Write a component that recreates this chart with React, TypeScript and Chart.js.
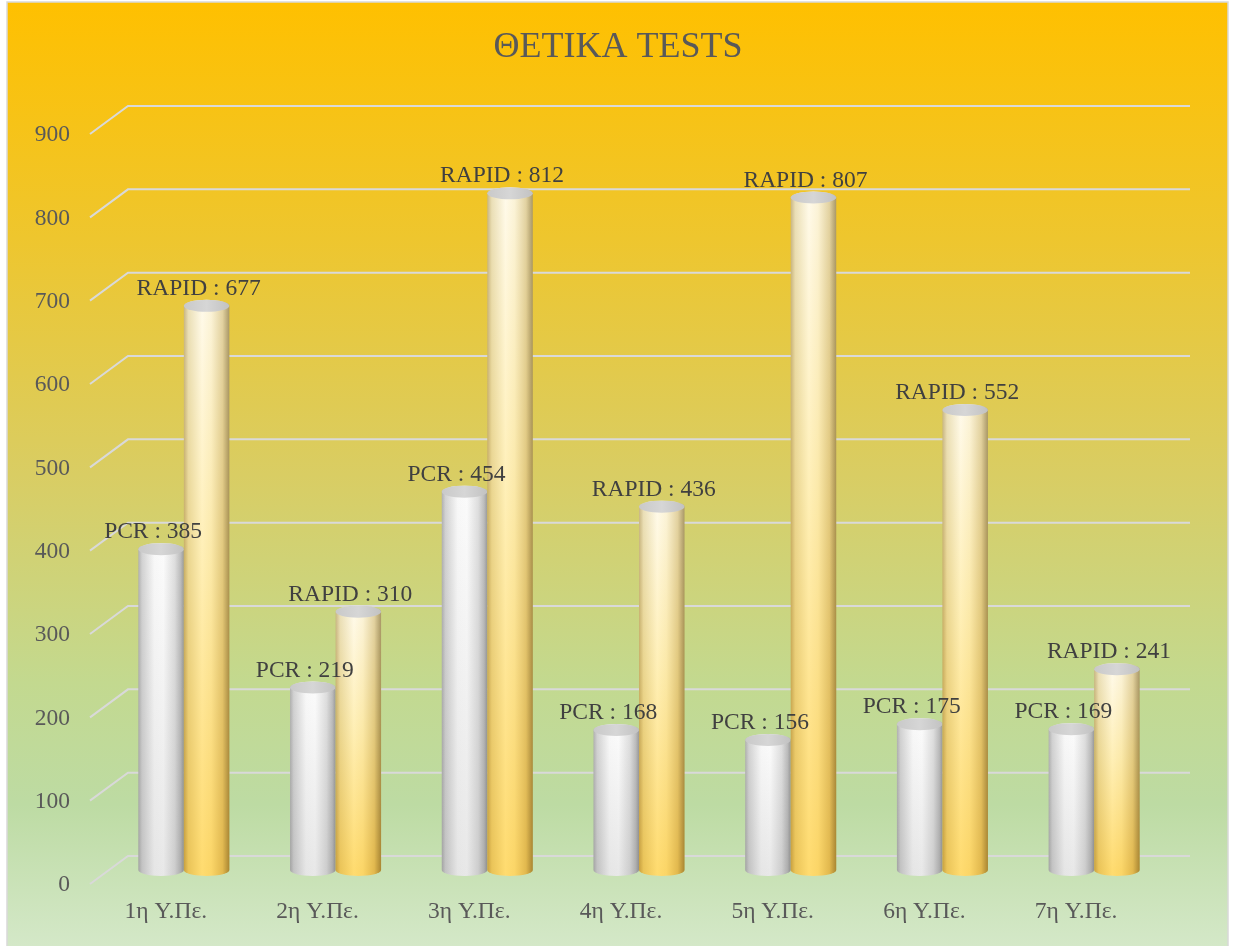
import React, { useEffect, useRef } from "react";
import { Chart, registerables } from "chart.js";

Chart.register(...registerables);

const categories = ["1η Υ.Πε.", "2η Υ.Πε.", "3η Υ.Πε.", "4η Υ.Πε.", "5η Υ.Πε.", "6η Υ.Πε.", "7η Υ.Πε."];
const pcrValues = [385, 219, 454, 168, 156, 175, 169];
const rapidValues = [677, 310, 812, 436, 807, 552, 241];
const seriesNames = ["PCR", "RAPID"];
const titleText = "ΘΕΤΙΚΑ TESTS";
const yMin = 0;
const yMax = 900;
const yStep = 100;

const FONT = "'Liberation Serif', 'Times New Roman', serif";
const DX_FRONT = -18;
const DX_BACK = 20;
const DY = 14;

const decorPlugin = {
  id: "decor",
  beforeDraw(chart: any) {
    const { ctx, width, height } = chart;
    ctx.save();
    ctx.fillStyle = "#ffffff";
    ctx.fillRect(0, 0, width, height);
    const g = ctx.createLinearGradient(0, 2, 0, height);
    g.addColorStop(0, "#ffc000");
    g.addColorStop(0.25, "#eec62e");
    g.addColorStop(0.5, "#d9cd63");
    g.addColorStop(0.72, "#c3d98f");
    g.addColorStop(0.85, "#bddba3");
    g.addColorStop(1, "#d4e8c8");
    ctx.fillStyle = g;
    ctx.fillRect(7, 2, 1221, height);
    ctx.strokeStyle = "#d9d9d9";
    ctx.lineWidth = 1.5;
    ctx.strokeRect(7, 2, 1221, height + 4);
    ctx.fillStyle = "#595959";
    ctx.font = `36px ${FONT}`;
    ctx.textAlign = "center";
    ctx.textBaseline = "alphabetic";
    ctx.fillText(titleText, 618, 57);
    ctx.restore();
  },
  beforeDatasetsDraw(chart: any) {
    const { ctx, chartArea } = chart;
    const ys = chart.scales.y;
    ctx.save();
    ctx.strokeStyle = "#d9d9d9";
    ctx.lineWidth = 2;
    ys.ticks.forEach((t: any) => {
      const py = ys.getPixelForValue(t.value);
      ctx.beginPath();
      ctx.moveTo(chartArea.left + DX_FRONT, py + DY);
      ctx.lineTo(chartArea.left + DX_BACK, py - DY);
      ctx.lineTo(chartArea.right + DX_BACK, py - DY);
      ctx.stroke();
    });
    ctx.restore();
  },
  afterDatasetsDraw(chart: any) {
    const { ctx } = chart;
    const metas = [chart.getDatasetMeta(0), chart.getDatasetMeta(1)];
    const n = categories.length;
    for (let i = 0; i < n; i++) {
      metas.forEach((meta: any, di: number) => {
        const el = meta.data[i];
        if (!el) return;
        drawCylinder(ctx, el.x, el.y, el.base, el.width, di);
      });
    }
    ctx.save();
    ctx.font = `23.5px ${FONT}`;
    ctx.fillStyle = "#404040";
    ctx.textAlign = "center";
    ctx.textBaseline = "alphabetic";
    metas.forEach((meta: any, di: number) => {
      const vals = di === 0 ? pcrValues : rapidValues;
      meta.data.forEach((el: any, i: number) => {
        ctx.fillText(`${seriesNames[di]} : ${vals[i]}`, el.x - 8, el.y - 11);
      });
    });
    ctx.restore();
  },
};

function drawCylinder(ctx: CanvasRenderingContext2D, x: number, y: number, base: number, w: number, kind: number) {
  const rx = w / 2;
  const ry = 6;
  const left = x - rx;
  const right = x + rx;
  ctx.save();
  ctx.beginPath();
  ctx.moveTo(left, y);
  ctx.lineTo(left, base);
  ctx.ellipse(x, base, rx, ry, 0, Math.PI, 0, true);
  ctx.lineTo(right, y);
  ctx.ellipse(x, y, rx, ry, 0, 0, -Math.PI, true);
  ctx.closePath();
  const hg = ctx.createLinearGradient(left, 0, right, 0);
  if (kind === 0) {
    hg.addColorStop(0, "#b0b0b0");
    hg.addColorStop(0.08, "#d2d2d2");
    hg.addColorStop(0.35, "#f8f8f8");
    hg.addColorStop(0.55, "#fbfbfb");
    hg.addColorStop(0.8, "#dedede");
    hg.addColorStop(0.93, "#bcbcbc");
    hg.addColorStop(1, "#9a9a9a");
  } else {
    hg.addColorStop(0, "#c8b684");
    hg.addColorStop(0.1, "#eadfb8");
    hg.addColorStop(0.4, "#fffaea");
    hg.addColorStop(0.6, "#fbf3d8");
    hg.addColorStop(0.85, "#e2d2a2");
    hg.addColorStop(1, "#a99868");
  }
  ctx.fillStyle = hg;
  ctx.fill();
  ctx.clip();
  const vg = ctx.createLinearGradient(0, y, 0, base);
  if (kind === 1) {
    vg.addColorStop(0, "#ffffff");
    vg.addColorStop(0.45, "#fff4c6");
    vg.addColorStop(1, "#ffe07a");
  } else {
    vg.addColorStop(0, "#ffffff");
    vg.addColorStop(1, "#ececec");
  }
  ctx.globalCompositeOperation = "multiply";
  ctx.fillStyle = vg;
  ctx.fillRect(left - 2, y - ry - 2, w + 4, base - y + 2 * ry + 4);
  ctx.restore();
  ctx.save();
  ctx.beginPath();
  ctx.ellipse(x, y, rx, ry, 0, 0, Math.PI * 2);
  const tg = ctx.createLinearGradient(left, 0, right, 0);
  tg.addColorStop(0, "#c9c9c9");
  tg.addColorStop(0.5, "#d6d6d6");
  tg.addColorStop(1, "#c2c2c2");
  ctx.fillStyle = tg;
  ctx.fill();
  ctx.restore();
}

export default function App() {
  const ref = useRef<HTMLCanvasElement | null>(null);
  useEffect(() => {
    document.body.style.margin = "0";
    const canvas = ref.current;
    if (!canvas) return;
    const chart = new Chart(canvas, {
      type: "bar",
      data: {
        labels: categories,
        datasets: [
          { label: seriesNames[0], data: pcrValues, backgroundColor: "rgba(0,0,0,0)", borderWidth: 0 },
          { label: seriesNames[1], data: rapidValues, backgroundColor: "rgba(0,0,0,0)", borderWidth: 0 },
        ],
      },
      options: {
        responsive: false,
        animation: false,
        layout: { padding: { top: 120, right: 64, bottom: 0, left: 0 } },
        plugins: {
          legend: { display: false },
          title: { display: false },
          tooltip: { enabled: false },
        },
        datasets: { bar: { categoryPercentage: 0.6, barPercentage: 1.0 } },
        scales: {
          x: {
            grid: { display: false, drawTicks: false, tickLength: 0 },
            border: { display: false },
            ticks: {
              font: { family: FONT, size: 23.5 },
              color: "#595959",
              labelOffset: -18,
              padding: 28,
              maxRotation: 0,
              autoSkip: false,
            },
            afterFit(scale: any) {
              scale.height = 76;
            },
          },
          y: {
            min: yMin,
            max: yMax,
            grid: { display: false, drawTicks: false, tickLength: 0 },
            border: { display: false },
            ticks: {
              stepSize: yStep,
              font: { family: FONT, size: 23.5 },
              color: "#595959",
              labelOffset: 15,
              padding: 38,
            },
            afterFit(scale: any) {
              scale.width = 108;
            },
          },
        },
      },
      plugins: [decorPlugin],
    } as any);
    return () => chart.destroy();
  }, []);
  return (
    <div style={{ position: "absolute", left: 0, top: 0, width: 1234, height: 946 }}>
      <canvas ref={ref} width={1234} height={946} style={{ width: 1234, height: 946, display: "block" }} />
    </div>
  );
}
